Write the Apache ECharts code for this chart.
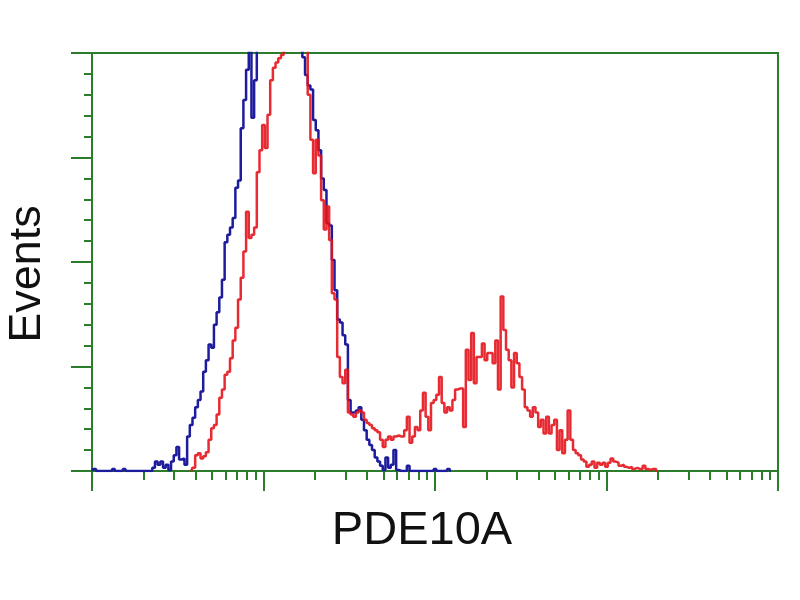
<!DOCTYPE html>
<html>
<head>
<meta charset="utf-8">
<script src="https://cdn.jsdelivr.net/npm/echarts@6/dist/echarts.min.js"></script>
<style>
html,body{margin:0;padding:0;background:#fff;}
#chart{width:800px;height:600px;}
</style>
</head>
<body>
<div id="chart"></div>
<script>
// Histogram counts per channel (256 log channels spanning 4 decades)
const blueFirstChannel = 0;
const blueCounts = [
0,2,0,0,0,0,0,0,2,0,0,0,2,0,0,0,0,0,0,0,0,0,0,
3,9,6,9,3,6,1,9,15,23,11,12,6,33,44,51,61,68,76,95,106,121,118,140,152,166,183,219,226,233,242,271,278,328,355,384,415,338,374,
430,445,460,470,480,490,500,505,510,505,500,490,480,465,450,435,420,
396,379,369,365,336,326,307,280,269,237,235,202,173,145,142,130,121,68,56,56,58,61,49,39,30,25,20,13,9,5,1,13,3,6,20,1,0,0,0,5,
0,0,0,0,0,0,0,0,0,2,0,0,0,0,2,0
];
const redFirstChannel = 37;
const redCounts = [
0,3,15,17,12,14,18,30,41,44,54,70,78,92,95,108,125,137,164,185,210,248,223,226,233,286,307,331,309,341,374,386,391,395,398,
410,420,430,440,445,440,430,420,410,
360,317,285,317,302,259,231,253,221,170,164,109,90,84,97,56,54,52,56,58,56,49,46,44,41,39,37,30,23,30,33,30,33,34,33,33,39,52,27,33,42,39,
58,75,52,39,65,68,73,90,65,56,61,58,68,78,79,79,42,116,87,132,84,109,109,122,106,113,113,103,125,78,167,135,116,106,80,113,103,90,78,
61,58,52,61,56,42,49,36,52,36,44,49,20,39,17,30,58,30,20,17,15,11,9,4,6,9,3,8,6,8,4,8,12,9,8,5,6,4,3,4,2,3,2,2,5,2,1,2,2,0
];
const channelMax = 256;
const decadeChannels = 64;
const yMax = 400;
const yInterval = 100;
const xTitle = 'PDE10A';
const yTitle = 'Events';

const blueData = blueCounts.map((v, i) => [blueFirstChannel + i, v]);
const redData = redCounts.map((v, i) => [redFirstChannel + i, v]);

const majorTicks = [];
for (let d = 0; d <= channelMax / decadeChannels; d++) majorTicks.push(d * decadeChannels);
const minorTicks = [];
for (let d = 0; d < channelMax / decadeChannels; d++) {
  for (let k = 2; k <= 9; k++) minorTicks.push(decadeChannels * (d + Math.log10(k)));
}

const green = '#2b7d2b';
const chart = echarts.init(document.getElementById('chart'), null, {renderer: 'canvas'});
chart.setOption({
  animation: false,
  backgroundColor: '#ffffff',
  grid: {left: 92, right: 22, top: 53, bottom: 129, show: true, borderColor: green, borderWidth: 2, backgroundColor: 'transparent'},
  xAxis: [{
    type: 'value', min: 0, max: channelMax, interval: decadeChannels,
    axisLine: {show: true, onZero: false, lineStyle: {color: green, width: 2}},
    axisTick: {show: true, length: 20, lineStyle: {color: green, width: 2}, customValues: majorTicks},
    axisLabel: {show: false}, splitLine: {show: false}
  }, {
    type: 'value', min: 0, max: channelMax, position: 'bottom', gridIndex: 0,
    axisLine: {show: false, onZero: false},
    axisTick: {show: true, length: 9, lineStyle: {color: green, width: 2}, customValues: minorTicks},
    axisLabel: {show: false}, splitLine: {show: false}
  }],
  yAxis: {
    type: 'value', min: 0, max: yMax, interval: yInterval,
    axisLine: {show: true, lineStyle: {color: green, width: 2}},
    axisTick: {show: true, length: 21, lineStyle: {color: green, width: 2}},
    minorTick: {show: true, splitNumber: 5, length: 8, lineStyle: {color: green, width: 2}},
    axisLabel: {show: false}, splitLine: {show: false}, minorSplitLine: {show: false}
  },
  series: [{
    type: 'line', xAxisIndex: 0, data: blueData, step: 'middle', symbol: 'none', clip: true,
    lineStyle: {color: '#1c1c9c', width: 2.5}
  }, {
    type: 'line', xAxisIndex: 0, data: redData, step: 'middle', symbol: 'none', clip: true,
    lineStyle: {color: '#e4141c', width: 2.5, opacity: 0.9}
  }],
  graphic: [{
    type: 'text', x: 28, y: 274, rotation: Math.PI / 2,
    style: {text: yTitle, font: '45px "Liberation Sans", Arial, sans-serif', fill: '#111', textAlign: 'center', textVerticalAlign: 'middle'}
  }, {
    type: 'text', x: 422, y: 531,
    style: {text: xTitle, font: '47px "Liberation Sans", Arial, sans-serif', fill: '#111', textAlign: 'center', textVerticalAlign: 'middle'}
  }]
});
</script>
</body>
</html>
